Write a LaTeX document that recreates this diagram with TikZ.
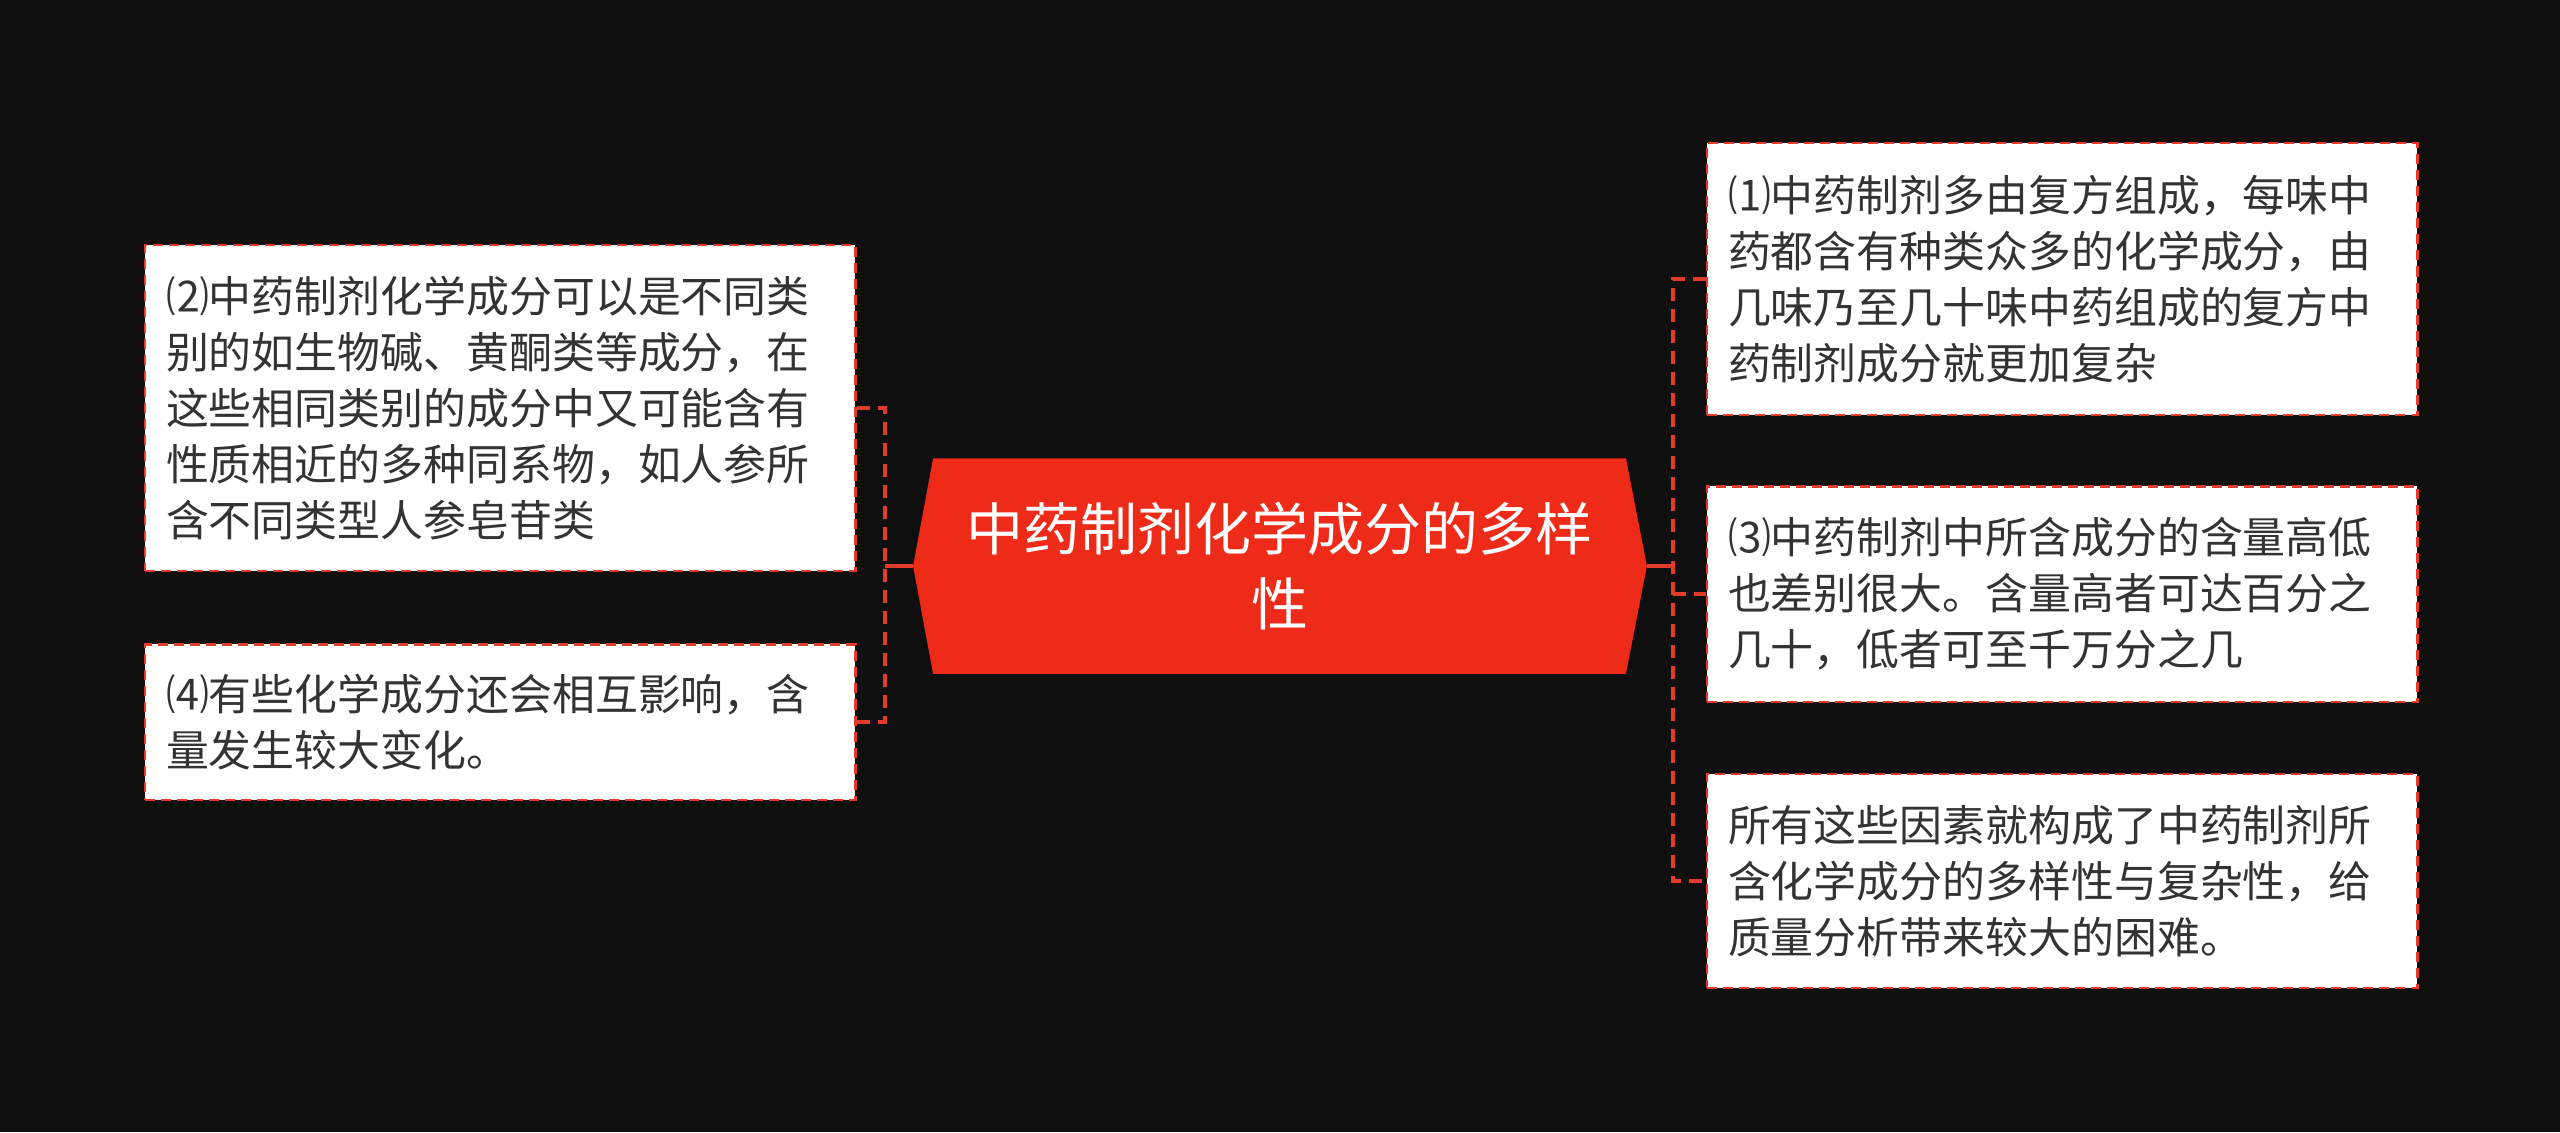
\documentclass[tikz,border=0pt]{standalone}
\usepackage{fontspec}
\newfontfamily\cjk{Noto Sans CJK SC}
\usetikzlibrary{backgrounds}
\definecolor{bgdark}{HTML}{0F0F0F}
\definecolor{rootred}{HTML}{EE2A18}
\definecolor{linered}{HTML}{E23B2C}
\definecolor{leaftext}{HTML}{333333}
\tikzset{
  topic/.style={
    minimum width=6.91cm, minimum height=2.14cm, inner sep=0pt,
    text=white, align=center,
    font=\cjk\fontsize{16.2}{21.3}\selectfont
  },
  leaf/.style={
    draw=linered, fill=white, line width=0.6pt,
    dash pattern=on 0.1cm off 0.06cm,
    text width=6.68cm, inner xsep=0.21cm, inner ysep=0.1cm,
    align=left, text=leaftext, anchor=west,
    font=\cjk\fontsize{12.2}{15.9}\selectfont
  },
  stem/.style={draw=linered, line width=0.9pt},
  branch/.style={draw=linered, line width=0.9pt, dash pattern=on 0.13cm off 0.08cm}
}
\begin{document}
\begin{tikzpicture}[x=0.01cm, y=-0.01cm]
\useasboundingbox (0,0) rectangle (2560,1132);
\node[topic] (root) at (1279.5,566) {中药制剂化学成分的多样\\性};
% left side
\node[leaf, minimum height=3.26cm] (l1) at (144,408) {⑵中药制剂化学成分可以是不同类\\别的如生物碱、黄酮类等成分，在\\这些相同类别的成分中又可能含有\\性质相近的多种同系物，如人参所\\含不同类型人参皂苷类};
\node[leaf, minimum height=1.55cm] (l2) at (144,722) {⑷有些化学成分还会相互影响，含\\量发生较大变化。};
% right side
\node[leaf, minimum height=2.71cm] (r1) at (1706,279) {⑴中药制剂多由复方组成，每味中\\药都含有种类众多的化学成分，由\\几味乃至几十味中药组成的复方中\\药制剂成分就更加复杂};
\node[leaf, minimum height=2.15cm] (r2) at (1706,594) {⑶中药制剂中所含成分的含量高低\\也差别很大。含量高者可达百分之\\几十，低者可至千万分之几};
\node[leaf, minimum height=2.14cm] (r3) at (1706,881) {所有这些因素就构成了中药制剂所\\含化学成分的多样性与复杂性，给\\质量分析带来较大的困难。};
\coordinate (ljoin) at (885,566);
\coordinate (rjoin) at (1673,566);
\begin{scope}[on background layer]
  \fill[bgdark] (0,0) rectangle (2560,1132);
  \fill[rootred] ([xshift=-0.2cm]root.west) -- (root.north west) -- (root.north east)
    -- ([xshift=0.21cm]root.east) -- (root.south east) -- (root.south west) -- cycle;
\end{scope}
\draw[stem] ([xshift=-0.2cm]root.west) -- (ljoin);
\draw[stem] ([xshift=0.21cm]root.east) -- (rjoin);
\draw[branch] (l1.east) -- (ljoin |- l1.east) -- (ljoin |- l2.east) -- (l2.east);
\draw[branch] (r1.west) -- (rjoin |- r1.west) -- (rjoin |- r3.west) -- (r3.west);
\draw[branch] (rjoin |- r2.west) -- (r2.west);
\end{tikzpicture}
\end{document}
